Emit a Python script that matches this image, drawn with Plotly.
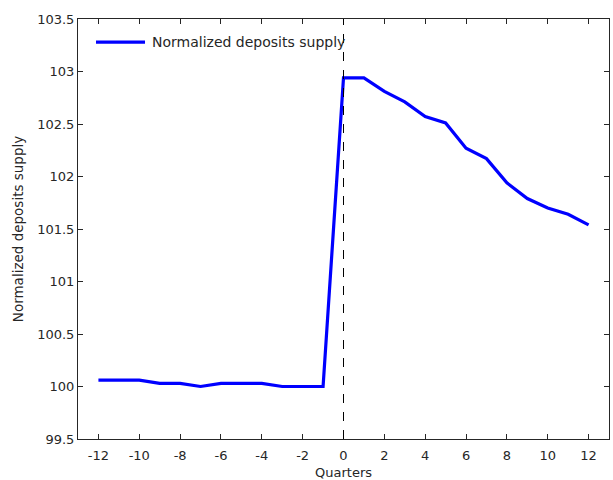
import plotly.graph_objects as go

quarters = list(range(-12, 13))
deposits = [100.06, 100.06, 100.06, 100.03, 100.03, 100.00, 100.03, 100.03, 100.03,
            100.00, 100.00, 100.00,
            102.94, 102.94, 102.81, 102.71, 102.57, 102.51, 102.27, 102.17, 101.94,
            101.79, 101.70, 101.64, 101.54]
x_ticks = list(range(-12, 13, 2))
x_tick_labels = [str(v) for v in x_ticks]
y_ticks = [99.5, 100, 100.5, 101, 101.5, 102, 102.5, 103, 103.5]
y_tick_labels = ["99.5", "100", "100.5", "101", "101.5", "102", "102.5", "103", "103.5"]
series_name = "Normalized deposits supply"

font_family = "DejaVu Sans"
txt = "#262626"

fig = go.Figure()
fig.add_trace(go.Scatter(
    x=quarters, y=deposits, mode="lines",
    name=series_name, showlegend=False,
    line=dict(color="#0000FF", width=3.2),
))

fig.add_shape(type="line", x0=0, x1=0, y0=0, y1=1, xref="x", yref="paper",
              line=dict(color="black", width=1, dash="dash"))

# legend (MATLAB style, no box)
fig.add_shape(type="line", xref="paper", yref="paper",
              x0=0.0339, x1=0.1262, y0=0.945, y1=0.945,
              line=dict(color="#0000FF", width=3.2))
fig.add_annotation(xref="paper", yref="paper", x=0.1356, y=0.945,
                   xanchor="left", yanchor="middle", showarrow=False,
                   text=series_name,
                   font=dict(family=font_family, size=14, color=txt))

axis_common = dict(
    showline=True, mirror="ticks", linecolor=txt, linewidth=1,
    ticks="inside", ticklen=5, tickcolor=txt, tickwidth=1,
    showgrid=False, zeroline=False, automargin=False,
    tickfont=dict(family=font_family, size=13, color=txt),
)

fig.update_layout(
    width=613, height=480,
    margin=dict(l=78, r=4, t=19, b=41),
    paper_bgcolor="white", plot_bgcolor="white",
    showlegend=False,
    xaxis=dict(range=[-13, 13], tickmode="array", tickvals=x_ticks, ticktext=x_tick_labels,
               ticklabelstandoff=4,
               title=dict(text="Quarters", standoff=8,
                          font=dict(family=font_family, size=13, color=txt)),
               **axis_common),
    yaxis=dict(range=[99.5, 103.5], tickmode="array", tickvals=y_ticks, ticktext=y_tick_labels,
               title=dict(text="Normalized deposits supply", standoff=10,
                          font=dict(family=font_family, size=13.5, color=txt)),
               **axis_common),
)

fig.write_html("out.html")
